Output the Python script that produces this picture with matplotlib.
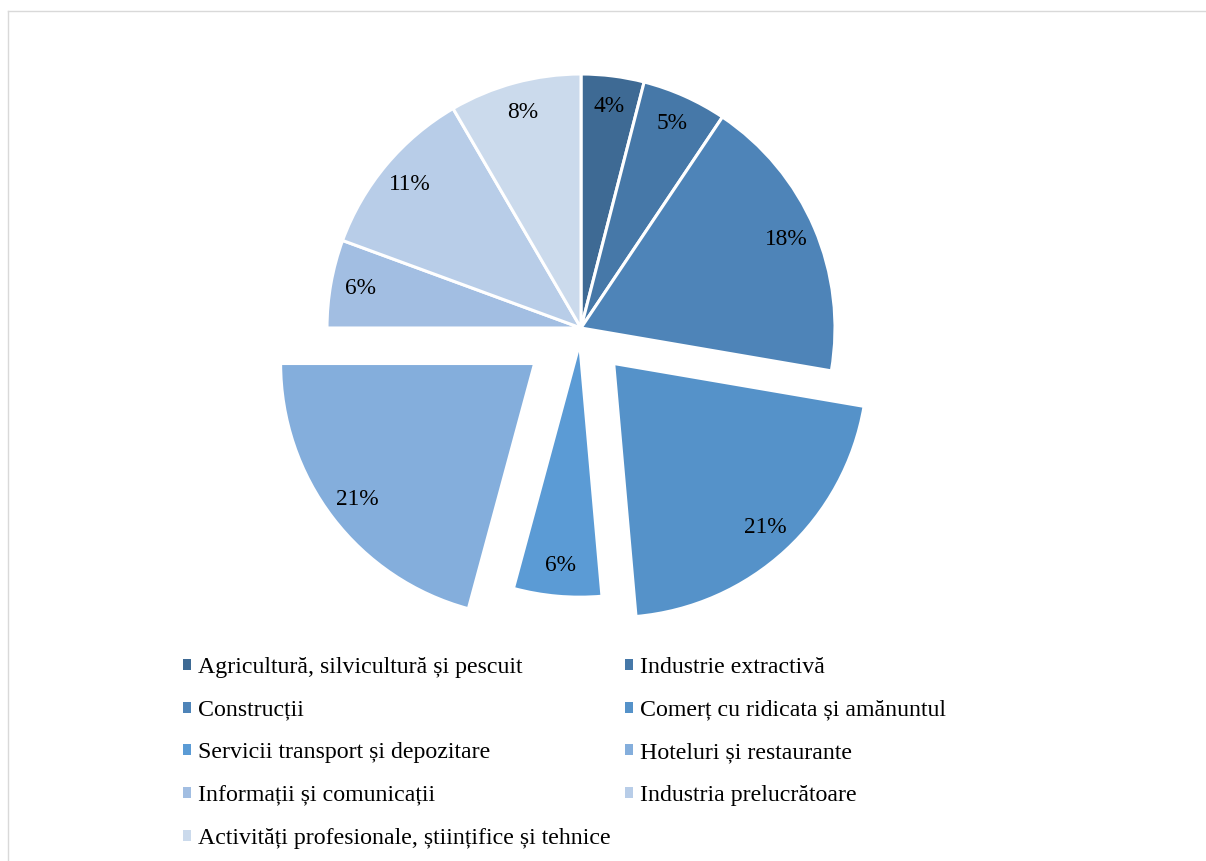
import matplotlib
matplotlib.use('Agg')
import matplotlib.pyplot as plt
from matplotlib.lines import Line2D

plt.rcParams['font.family'] = ['Liberation Serif', 'DejaVu Serif']

# data (share of total, %)
sectors = [
    'Agricultură, silvicultură și pescuit',
    'Industrie extractivă',
    'Construcții',
    'Comerț cu ridicata și amănuntul',
    'Servicii transport și depozitare',
    'Hoteluri și restaurante',
    'Informații și comunicații',
    'Industria prelucrătoare',
    'Activități profesionale, științifice și tehnice',
]
shares = [4.0, 5.4, 18.3, 20.9, 5.6, 20.8, 5.6, 11.0, 8.4]
explode = [0, 0, 0, 0.19, 0.06, 0.23, 0, 0, 0]
colors = ['#3E6A94', '#4678A8', '#4E84B8', '#5592C9', '#5B9BD5',
          '#84AEDC', '#A2BEE2', '#B8CDE8', '#CBDAEC']

W, H = 1206, 861
fig = plt.figure(figsize=(W / 100, H / 100), dpi=100)

# pie centre and radius in pixels
cx, cy, r = 581, 328, 254
half = 330
ax = fig.add_axes([(cx - half) / W, (H - cy - half) / H, 2 * half / W, 2 * half / H])
wedges, texts, autotexts = ax.pie(
    shares, explode=explode, colors=colors, startangle=90, counterclock=False,
    autopct='%.0f%%', pctdistance=0.88, radius=1,
    wedgeprops=dict(edgecolor='white', linewidth=2.2),
    textprops=dict(fontsize=16.8, color='black'))
lim = half / r
ax.set_xlim(-lim, lim)
ax.set_ylim(-lim, lim)
ax.set_aspect('equal')
ax.axis('off')

# legend is filled row by row in the reference; matplotlib fills columns
order = list(range(0, len(sectors), 2)) + list(range(1, len(sectors), 2))
leg = fig.legend([wedges[i] for i in order], [sectors[i] for i in order],
                 ncol=2, loc='upper left',
                 bbox_to_anchor=(183 / W, 1 - 657 / H), frameon=False,
                 fontsize=17.2, handlelength=0.33, handleheight=0.33,
                 handletextpad=0.3, labelspacing=0.91, columnspacing=0.6,
                 borderaxespad=0, borderpad=0)
for h in leg.legend_handles:
    h.set_linewidth(0)

# chart area border (clipped by image edges)
fig.add_artist(Line2D([7.5 / W, 7.5 / W], [0, 1 - 10.5 / H], color='#D9D9D9', lw=1))
fig.add_artist(Line2D([7.5 / W, 1], [1 - 10.5 / H, 1 - 10.5 / H], color='#D9D9D9', lw=1))

fig.savefig('out.png', dpi=100)
